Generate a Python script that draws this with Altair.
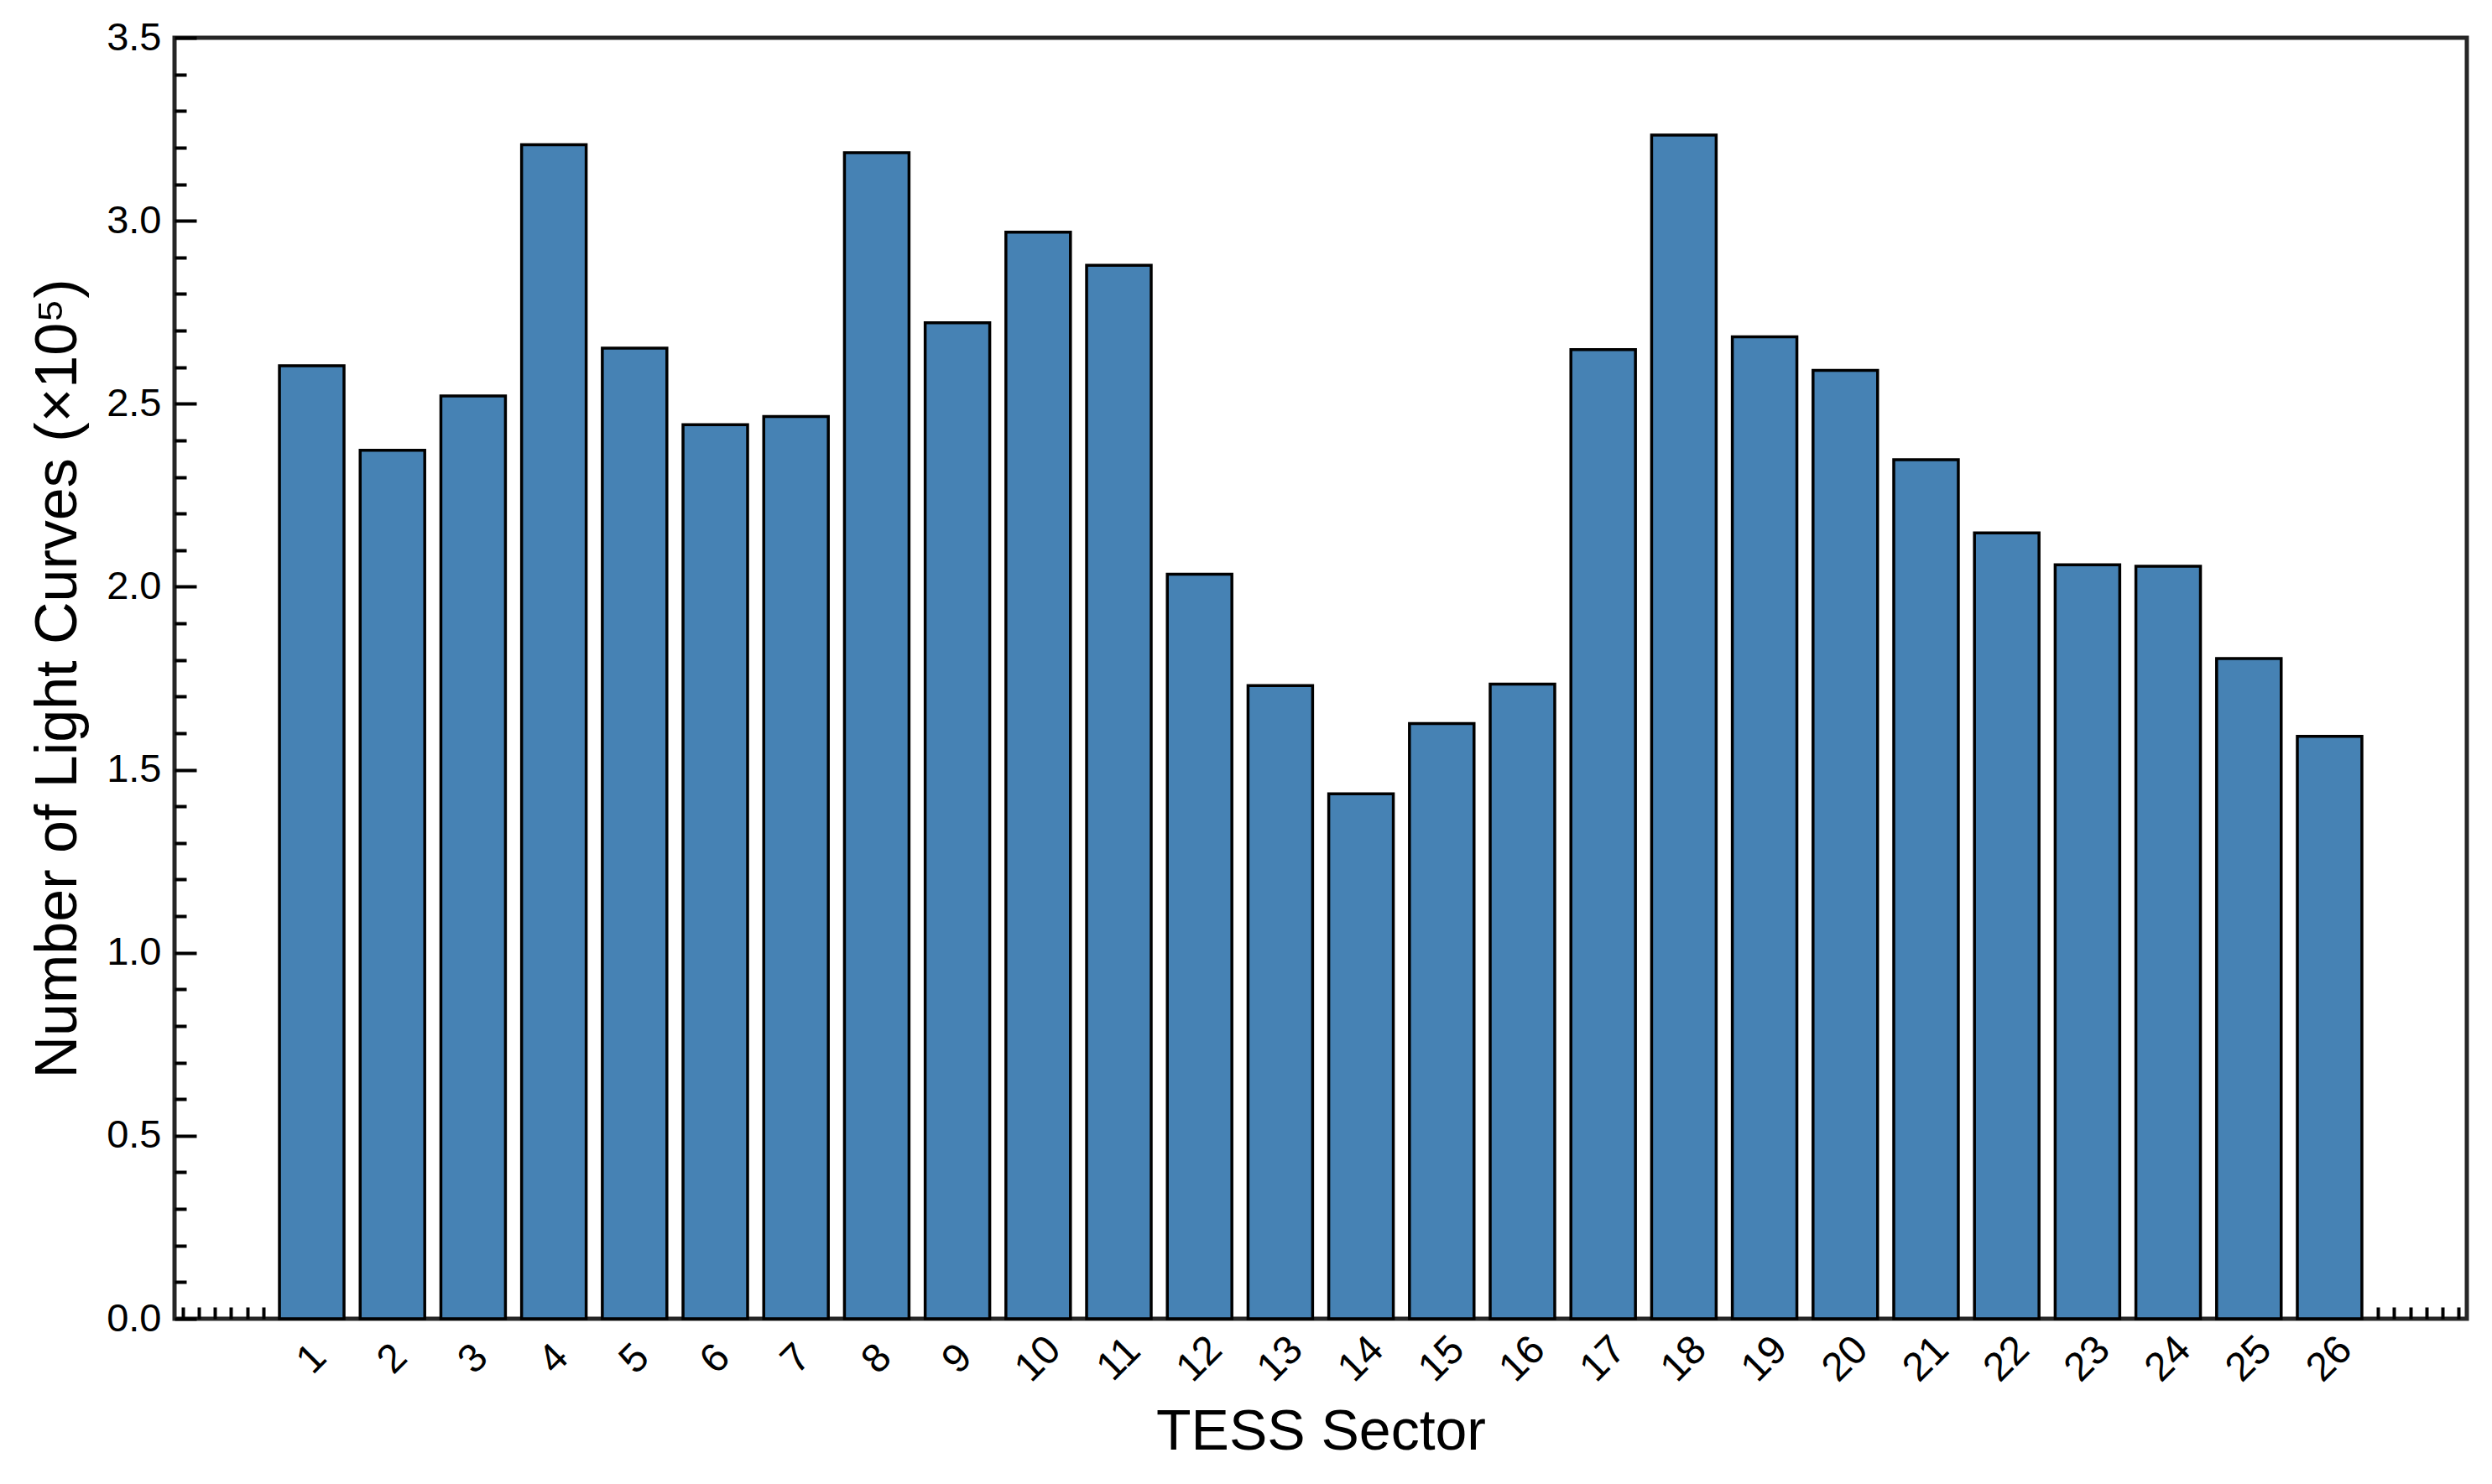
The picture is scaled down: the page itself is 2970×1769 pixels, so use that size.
import altair as alt
import pandas as pd

# ---- data ----
sectors = list(range(1, 27))
light_curves = [2.604, 2.373, 2.521, 3.208, 2.652, 2.443, 2.465, 3.186, 2.721, 2.969,
                2.878, 2.034, 1.730, 1.434, 1.626, 1.734, 2.648, 3.234, 2.683, 2.591,
                2.347, 2.147, 2.060, 2.056, 1.804, 1.591]
y_major = [0.0, 0.5, 1.0, 1.5, 2.0, 2.5, 3.0, 3.5]
y_minor = [round(i * 0.1, 1) for i in range(36) if i % 5 != 0]
x_minor = [-0.6, -0.4, -0.2, 0.0, 0.2, 0.4, 26.6, 26.8, 27.0, 27.2, 27.4, 27.6]
x_title = "TESS Sector"
y_title = "Number of Light Curves (×10⁵)"

df = pd.DataFrame({"sector": sectors, "count": light_curves})

W, H = 2732, 1527
FONT = "Liberation Sans"
xscale = alt.Scale(domain=[-0.7, 27.7], nice=False, zero=False)
yscale = alt.Scale(domain=[0, 3.5], nice=False, zero=True)

base = alt.Chart(df).transform_calculate(
    lo="datum.sector - 0.4", hi="datum.sector + 0.4"
)

x_main = alt.Axis(
    orient="bottom", values=sectors, format="d", ticks=False, tickSize=0,
    domain=False, grid=False, labelAngle=315, labelAlign="center",
    labelBaseline="middle", labelPadding=48, labelFontSize=48, labelFont=FONT,
    labelColor="black", labelFlush=False, labelOverlap=False,
    title=x_title, titleFont=FONT, titleFontSize=68, titleFontWeight="normal",
    titleColor="black", titleY=155, titleBaseline="alphabetic",
)
y_main = alt.Axis(
    orient="left", values=y_major, format=".1f", ticks=False, tickSize=0,
    domain=False, grid=False, labelPadding=16, labelFontSize=47, labelFont=FONT,
    labelColor="black", labelFlush=False, labelOverlap=False,
    title=y_title, titleFont=FONT, titleFontSize=70, titleFontWeight="normal",
    titleColor="black", titleX=-118, titleY=H / 2, titleBaseline="alphabetic",
    titleAngle=270, titleAlign="center",
)

bars = base.mark_bar(color="#4682b4", stroke="black", strokeWidth=3.5).encode(
    x=alt.X("lo:Q", scale=xscale, axis=x_main),
    x2="hi:Q",
    y=alt.Y("count:Q", scale=yscale, axis=y_main),
    y2=alt.datum(0),
)

major_ticks = base.mark_bar(opacity=0).encode(
    x=alt.X("lo:Q", scale=xscale, axis=None),
    x2="hi:Q",
    y=alt.Y("count:Q", scale=yscale, axis=alt.Axis(
        orient="right", offset=-W, values=y_major, labels=False, domain=False,
        grid=False, ticks=True, tickSize=26, tickWidth=4, tickColor="black",
        title=None)),
    y2=alt.datum(0),
)

minor_ticks = base.mark_bar(opacity=0).encode(
    x=alt.X("lo:Q", scale=xscale, axis=alt.Axis(
        orient="top", offset=-H, values=x_minor, labels=False, domain=False,
        grid=False, ticks=True, tickSize=14, tickWidth=4, tickColor="black",
        title=None, zindex=0)),
    x2="hi:Q",
    y=alt.Y("count:Q", scale=yscale, axis=alt.Axis(
        orient="right", offset=-W, values=y_minor, labels=False, domain=False,
        grid=False, ticks=True, tickSize=14, tickWidth=4, tickColor="black",
        title=None)),
    y2=alt.datum(0),
)

chart = alt.layer(bars, major_ticks, minor_ticks).resolve_axis(
    x="independent", y="independent"
).properties(
    width=W, height=H,
    autosize=alt.AutoSizeParams(type="none"),
    padding={"left": 200, "top": 37, "right": 20, "bottom": 170},
    background="white",
).configure_view(stroke="#262626", strokeWidth=5)

chart.save("out.html", embed_options={"renderer": "svg", "actions": False})
